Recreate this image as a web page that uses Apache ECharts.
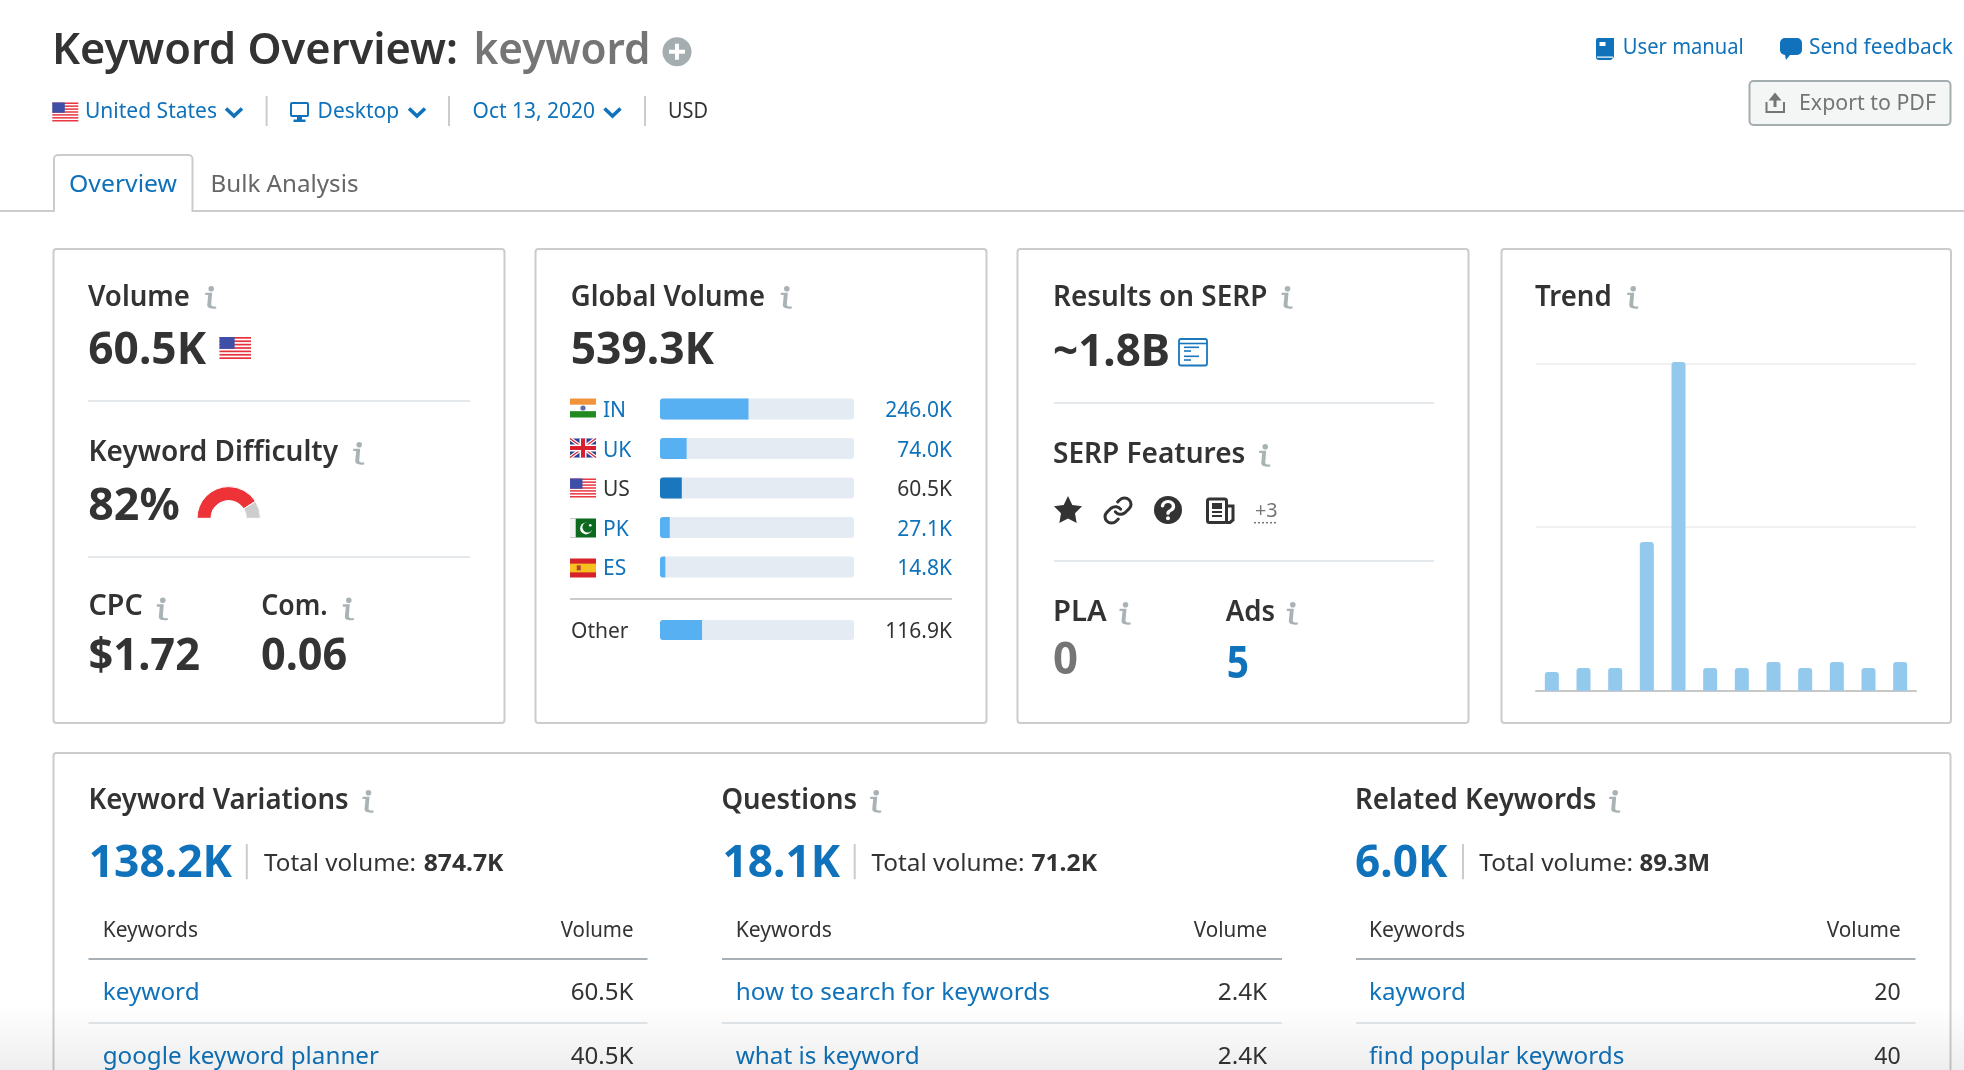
<!DOCTYPE html>
<html><head><meta charset="utf-8">
<style>html,body{margin:0;padding:0;background:#fff}#c{width:1964px;height:1070px}</style>
<script src="https://cdn.jsdelivr.net/npm/echarts@6/dist/echarts.min.js"></script>
</head><body><div id="c"></div>
<script>
// ---- data ----
const globalCodes = ['IN','UK','US','PK','ES'];
const globalValues = [246.0,74.0,60.5,27.1,14.8];
const globalLabels = ['246.0K','74.0K','60.5K','27.1K','14.8K'];
const globalTotal = 539.3;
const otherCode = ['Other'];
const otherValue = [116.9];
const otherLabel = ['116.9K'];
const currentCode = 'US';
const difficultyParts = [82,18];
const trendMonths = ['1','2','3','4','5','6','7','8','9','10','11','12'];
const trendValues = [5.7,6.9,6.9,45.4,100.4,6.9,6.9,8.8,6.9,8.8,6.9,8.8];
const variationsKeywords = ['keyword','google keyword planner'];
const variationsVolumes = ['60.5K','40.5K'];
const questionsKeywords = ['how to search for keywords','what is keyword'];
const questionsVolumes = ['2.4K','2.4K'];
const relatedKeywords = ['kayword','find popular keywords'];
const relatedVolumes = ['20','40'];

const FONT='"Noto Sans"';
const INK='#333333',BLUE='#0f72ba',GREY='#757575',ICON='#a9b3b6',LINE='#e2e8ec',BORDER='#cccccc';
const HEAD=600;
const ctx=document.createElement('canvas').getContext('2d');
const g=[];
let shapeId=0;
function T(text,x,base,size,fill,weight,width,align){
  const font=`${weight} ${size}px ${FONT}`;
  ctx.font=font;
  if(!align&&size>=28&&width){x-=1;width+=1;}
  const sx=width?width/ctx.measureText(text).width:1;
  g.push({type:'text',silent:true,z:5,x:x,y:base-0.275*size,scaleX:sx,
    style:{text:text,font:font,fill:fill,textAlign:align||'left',textVerticalAlign:'middle'}});
}
function R(x,y,w,h,fill,r,stroke,lw){
  g.push({type:'rect',silent:true,z:4,shape:{x:x,y:y,width:w,height:h,r:r||0},
    style:{fill:fill||'none',stroke:stroke||'none',lineWidth:lw||0}});
}
function H(x1,x2,y,color,lw){
  g.push({type:'line',silent:true,z:3,shape:{x1:x1,y1:y,x2:x2,y2:y},style:{stroke:color,lineWidth:lw||2}});
}
function V(x,y1,y2,color,lw){
  g.push({type:'line',silent:true,z:3,shape:{x1:x,y1:y1,x2:x,y2:y2},style:{stroke:color,lineWidth:lw||2}});
}
function PL(pts,color,lw){
  g.push({type:'polyline',silent:true,z:4,shape:{points:pts},style:{stroke:color,lineWidth:lw,fill:'none',lineJoin:'miter'}});
}
function PG(pts,fill){
  g.push({type:'polygon',silent:true,z:4,shape:{points:pts},style:{fill:fill}});
}
function C(cx,cy,r,fill){
  g.push({type:'circle',silent:true,z:4,shape:{cx:cx,cy:cy,r:r},style:{fill:fill}});
}
function P(d,x,y,w,h,fill,stroke,lw){
  const name='icon'+(shapeId++);
  const Cls=echarts.graphic.extendPath(d,{});
  echarts.graphic.registerShape(name,Cls);
  const b=new Cls().getBoundingRect();
  const sx=w/b.width,sy=h/b.height;
  g.push({type:name,silent:true,z:4,x:x-b.x*sx,y:y-b.y*sy,scaleX:sx,scaleY:sy,
    style:{fill:fill||'none',stroke:stroke||'none',lineWidth:lw||0,lineCap:'round',strokeNoScale:true}});
}
const INFO_D='M0 0H7L6 15C6 17 8 18 11 17.5V20C5 21 2 19 2 16L3 3H0Z';
function info(cx,cy){ // dot centre
  C(cx-0.5,cy,2.8,ICON);
  P(INFO_D,cx-6.5,cy+4,11,16,ICON);
}
function chev(x,y){PL([[x+1.5,y+1.5],[x+9.5,y+9],[x+17.5,y+1.5]],BLUE,3.6);}
function flag(code,x,y,w,h){
  if(code==='US'){
    const n=13,s=h/n;
    R(x,y,w,h,'#ffffff');
    for(let i=0;i<n;i+=2)R(x,y+i*s,w,s,'#e8303a');
    R(x,y,w*0.48,s*7,'#3f4fa8');
  }else if(code==='IN'){
    R(x,y,w,h/3,'#f0933a');R(x,y+h/3,w,h/3,'#ffffff');R(x,y+2*h/3,w,h/3,'#218a21');
    C(x+w/2,y+h/2,2.6,'#5b6fb0');
  }else if(code==='UK'){
    R(x,y,w,h,'#2a3f8f');
    PL([[x,y],[x+w,y+h]],'#ffffff',3.5);PL([[x+w,y],[x,y+h]],'#ffffff',3.5);
    PL([[x,y],[x+w,y+h]],'#d8202f',1.2);PL([[x+w,y],[x,y+h]],'#d8202f',1.2);
    R(x+w/2-3.5,y,7,h,'#ffffff');R(x,y+h/2-3.5,w,7,'#ffffff');
    R(x+w/2-2,y,4,h,'#d8202f');R(x,y+h/2-2,w,4,'#d8202f');
  }else if(code==='PK'){
    R(x,y,w,h,'#0b6a1f');R(x,y,w*0.22,h,'#f4f4f4');
    C(x+w*0.62,y+h*0.52,6,'#ffffff');C(x+w*0.68,y+h*0.46,5.2,'#0b6a1f');
    C(x+w*0.78,y+h*0.36,1.3,'#ffffff');
  }else if(code==='ES'){
    R(x,y,w,h,'#d7222c');R(x,y+h*0.27,w,h*0.46,'#f7c021');
    R(x+w*0.26,y+h*0.36,4,5,'#b3402a');
  }
}

// ---- page header ----
T('Keyword Overview:',53,63.3,44,INK,HEAD,405);
T('keyword',474.5,63.3,44,GREY,HEAD,176);
C(677,51.7,14.5,'#a4adb0');R(669,49.7,16,4,'#fff');R(675,43.7,4,16,'#fff');
flag('US',52.3,102.5,26,19);
T('United States',85,118,21.5,BLUE,400,132);chev(224.5,107);
V(266.6,96,126,BORDER);
R(291,103,17,13,'none',1,BLUE,2);R(297,116,5,4,BLUE);R(293.5,119.5,12,2.5,BLUE);
T('Desktop',317.6,118,21.5,BLUE,400,81.5);chev(407.5,107);
V(449,96,126,BORDER);
T('Oct 13, 2020',472.6,118,21.5,BLUE,400,122.5);chev(603,107);
V(645,96,126,BORDER);
T('USD',668,118,21.5,INK,400,40);
H(0,1964,211,BORDER,2);
R(54,155,138.5,60,'#ffffff',[4,4,0,0],BORDER,2);
R(52,212,142,6,'#ffffff');
H(0,53,211,BORDER,2);H(193,1964,211,BORDER,2);
T('Overview',69,191.7,24,BLUE,400,108);
T('Bulk Analysis',210.5,191.7,24,'#666666',400,148);
// top right
P('M2 0H18V19L15 22H3A3 3 0 0 1 0 19V2A2 2 0 0 1 2 0Z',1596,38,18,22,BLUE);
R(1599.5,42,6,4,'#ffffff');R(1597,56.5,16,1.2,'#ffffff');
T('User manual',1622.8,53.3,21.5,BLUE,400,121);
P('M5 0H17A5 5 0 0 1 22 5V12A5 5 0 0 1 17 17H10L6 22L5 17A5 5 0 0 1 0 12V5A5 5 0 0 1 5 0Z',1780,38,22,22,BLUE);
T('Send feedback',1809,53.3,21.5,BLUE,400,144);
R(1749.5,81,201,44,'#f4f6f6',4,'#a4adb0',2);
PL([[1766.5,102],[1766.5,112],[1784,112],[1784,102]],GREY,2);
PL([[1775,98],[1775,107]],GREY,3);
PG([[1775,92.5],[1768.5,100.5],[1781.5,100.5]],GREY);
T('Export to PDF',1799,110,21.5,GREY,400,137);

// ---- cards ----
[[53.5,451],[535.5,451],[1017.5,451],[1501.5,449.5]].forEach(c=>R(c[0],249,c[1],474,'none',3,BORDER,2));
R(53.5,753,1897,400,'none',3,BORDER,2);

// card 1
T('Volume',89,305.7,28,INK,HEAD,101);info(211.7,288.7);
T('60.5K',89.3,363.3,44,INK,700,116.7);
flag('US',219.5,337,31.5,22);
H(88,470,401,LINE);
T('Keyword Difficulty',89.5,461.2,28,INK,HEAD,248.5);info(359.7,444.7);
T('82%',89.3,519.3,44,INK,700,90.4);
H(88,470,557,LINE);
T('CPC',89.5,615.2,28,INK,HEAD,53.2);info(163.3,600.3);
T('Com.',262.3,615.2,28,INK,HEAD,65.4);info(349.3,600.3);
T('$1.72',89.5,669.3,44,INK,700,110.5);
T('0.06',262,669.3,44,INK,700,85.3);

// card 2
T('Global Volume',571.7,305.7,28,INK,HEAD,193.3);info(787.3,288.7);
T('539.3K',571.7,363.3,44,INK,700,142.3);
globalCodes.forEach((k,i)=>flag(k,570,398.5+i*40,26,19));
H(570,952,599,BORDER);

// card 3
T('Results on SERP',1054,305.7,28,INK,HEAD,213.3);info(1288,288.7);
T('~1.8B',1054,365.7,44,INK,700,116);
R(1179,339,28,26.5,'none',2,'#1a76bd',1.8);
H(1179,1207,343.5,'#1a76bd',1.6);
[[347.3,15],[351,7],[356.3,15],[360,7]].forEach(a=>H(1184,1184+a[1],a[0],'#1a76bd',1.6));
H(1054,1434,403,LINE);
T('SERP Features',1054,463,28,INK,HEAD,191.3);info(1265.7,446.7);
P('M12 0L15.7 7.5L24 8.7L18 14.5L19.4 22.8L12 18.9L4.6 22.8L6 14.5L0 8.7L8.3 7.5Z',1054,496,28,27,INK);
P('M10 13a5 5 0 0 0 7.54.54l3-3a5 5 0 0 0-7.07-7.07l-1.72 1.71M14 11a5 5 0 0 0-7.54-.54l-3 3a5 5 0 0 0 7.07 7.07l1.71-1.71',1105,498,26,25,'none',INK,3);
C(1168,510,14,INK);
P('M0 5A5 5 0 1 1 7.5 9.5C6 10.3 5 11 5 13',1162.5,501.5,11,12,'none','#fff',3.2);
C(1168,518.3,2,'#fff');
R(1207.5,499,19,23.5,'none',2,INK,3);R(1212,503,10,6,INK);H(1212,1222,512,INK,2);H(1212,1222,516,INK,2);
PL([[1226,506],[1233,506],[1233,520],[1230,522.5],[1226,522.5]],INK,3);
T('+3',1255,517,20,GREY,400,22.7);
g.push({type:'line',silent:true,z:3,shape:{x1:1254,y1:522.7,x2:1278,y2:522.7},style:{stroke:GREY,lineWidth:1.5,lineDash:[2,2]}});
H(1054,1434,561,LINE);
T('PLA',1054,621.2,28,INK,HEAD,52.7);info(1126,604.7);
T('Ads',1226.7,621.2,28,INK,HEAD,48.3);info(1293.3,604.7);
T('0',1054,673.3,44,GREY,700,24);
T('5',1227.7,677.7,44,BLUE,700,21.3);

// card 4
T('Trend',1536,305.7,28,INK,HEAD,75.7);info(1633.7,288.7);

// ---- bottom panel ----
function panel(title,tx,tw,ix,big,bx,bw,sep,tl,tr,tot,vl,vr,x0,x1,kx,kw,volL,volR,kws,kwWidths,vols,volWs){
  T(title,tx,808.5,28,INK,HEAD,tw);info(ix,792.7);
  T(big,bx-1,876.7,44,BLUE,700,bw+1);
  V(sep,844,879.3,BORDER);
  T('Total volume:',tl,870.5,24,INK,400,tr-tl);
  T(tot,vl,870.5,24,INK,700,vr-vl);
  T('Keywords',kx-1,936.5,21.5,INK,400,kw+1);
  T('Volume',volR+0.7,936.5,21.5,INK,400,volR-volL,'right');
  H(x0,x1,959,'#a9b0b5');
  H(x0,x1,1023,'#e2e6e9');
  kws.forEach((k,i)=>{
    const b=1000.2+i*63.3;
    T(k,kx-1,b,24,BLUE,400,kwWidths[i]+1);
    T(vols[i],volR+0.7,b,23,INK,400,volWs[i],'right');
  });
}
panel('Keyword Variations',89.4,259.3,369,'138.2K',90.7,141.3,246.8,264,416,'874.7K',423.7,503.5,88.5,647.5,103.7,94.3,560,632.8,
  variationsKeywords,[95.9,275.3],variationsVolumes,[62.8,62.8]);
panel('Questions',722.4,134.6,876.7,'18.1K',724.5,115.5,854.7,871.4,1024.5,'71.2K',1031.4,1097,722,1282,736.7,95.1,1193,1266.5,
  questionsKeywords,[313.1,182.9],questionsVolumes,[49.5,49.5]);
panel('Related Keywords',1356,240.4,1615.7,'6.0K',1357,90.3,1463,1479.3,1633,'89.3M',1639.5,1710,1356,1915.5,1370,95,1826,1900,
  relatedKeywords,[95.8,254.3],relatedVolumes,[26.4,26.4]);

// bottom fade
g.push({type:'rect',silent:true,z:20,shape:{x:0,y:1005,width:1964,height:65},
  style:{fill:new echarts.graphic.LinearGradient(0,0,0,1,[{offset:0,color:'rgba(0,0,0,0)'},{offset:1,color:'rgba(0,0,0,0.065)'}])}});

const labelFont={fontFamily:FONT,fontSize:21,verticalAlign:'top',lineHeight:5};
const codeColor=v=>(v===currentCode?INK:BLUE);
const valueColor=v=>(globalLabels.indexOf(v)===globalCodes.indexOf(currentCode)?INK:BLUE);
const hideAxis={axisLine:{show:false},axisTick:{show:false},splitLine:{show:false}};
const barStyle={backgroundStyle:{color:'#e5ebf2',borderRadius:3},showBackground:true};

const option={
  animation:false,
  backgroundColor:'#ffffff',
  textStyle:{fontFamily:FONT},
  grid:[
    {left:660,top:389.25,width:194,height:197.5},
    {left:660,top:610,width:194,height:40},
    {left:1536,top:363.3,width:380,height:327.4}
  ],
  xAxis:[
    {gridIndex:0,type:'value',min:0,max:globalTotal,show:false},
    {gridIndex:1,type:'value',min:0,max:globalTotal,show:false},
    {gridIndex:2,type:'category',data:trendMonths,
      axisTick:{show:false},axisLabel:{show:false},axisLine:{lineStyle:{color:'#c8c8c8',width:2}}}
  ],
  yAxis:[
    {gridIndex:0,type:'category',inverse:true,data:globalCodes,position:'left',...hideAxis,
      axisLabel:{...labelFont,interval:0,align:'left',margin:57,color:codeColor}},
    {gridIndex:0,type:'category',inverse:true,data:globalLabels,position:'right',...hideAxis,
      axisLabel:{...labelFont,interval:0,align:'right',margin:98,color:valueColor}},
    {gridIndex:1,type:'category',inverse:true,data:otherCode,position:'left',...hideAxis,
      axisLabel:{...labelFont,interval:0,align:'left',margin:89,color:INK}},
    {gridIndex:1,type:'category',inverse:true,data:otherLabel,position:'right',...hideAxis,
      axisLabel:{...labelFont,interval:0,align:'right',margin:98,color:INK}},
    {gridIndex:2,type:'value',min:0,max:100,interval:50,
      axisLine:{show:false},axisTick:{show:false},axisLabel:{show:false},
      splitLine:{lineStyle:{color:'#eff1f3',width:2}}}
  ],
  series:[
    {type:'bar',xAxisIndex:0,yAxisIndex:0,barWidth:21,silent:true,...barStyle,
      data:globalValues.map((v,i)=>({value:v,itemStyle:{color:globalCodes[i]===currentCode?'#1a76bd':'#56b0f2',borderRadius:[3,0,0,3]}}))},
    {type:'bar',xAxisIndex:1,yAxisIndex:2,barWidth:20,silent:true,...barStyle,
      itemStyle:{color:'#56b0f2',borderRadius:[3,0,0,3]},data:otherValue},
    {type:'bar',xAxisIndex:2,yAxisIndex:4,barWidth:14,silent:true,clip:false,
      itemStyle:{color:'#94c9ee',borderRadius:[3,3,0,0]},data:trendValues},
    {type:'pie',silent:true,center:[228.7,518.3],radius:[17.7,31.7],startAngle:180,
      label:{show:false},labelLine:{show:false},
      data:[
        {value:difficultyParts[0],itemStyle:{color:'#ed3338',borderColor:'#fff',borderWidth:1}},
        {value:difficultyParts[1],itemStyle:{color:'#cdcdcd',borderColor:'#fff',borderWidth:1}},
        {value:difficultyParts[0]+difficultyParts[1],itemStyle:{color:'rgba(0,0,0,0)'}}
      ]}
  ],
  graphic:{elements:g}
};
const chart=echarts.init(document.getElementById('c'));
chart.setOption(option);
</script></body></html>
